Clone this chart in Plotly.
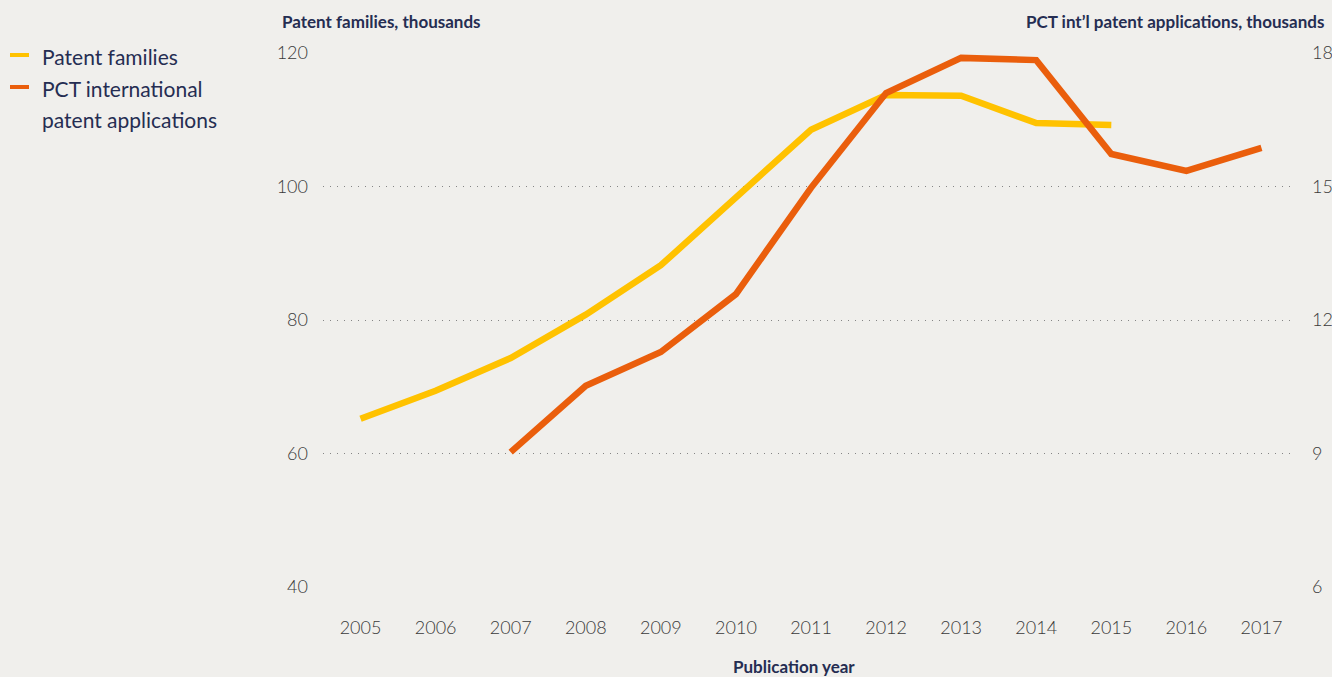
import plotly.graph_objects as go

years_pf = [2005, 2006, 2007, 2008, 2009, 2010, 2011, 2012, 2013, 2014, 2015]
patent_families = [65.2, 69.4, 74.3, 80.8, 88.2, 98.4, 108.5, 113.7, 113.6, 109.5, 109.2]

years_pct = [2007, 2008, 2009, 2010, 2011, 2012, 2013, 2014, 2015, 2016, 2017]
pct_apps = [9.03, 10.52, 11.28, 12.58, 14.97, 17.1, 17.89, 17.84, 15.73, 15.35, 15.87]

left_ticks = [40, 60, 80, 100, 120]
right_ticks = [6, 9, 12, 15, 18]
year_ticks = list(range(2005, 2018))

YELLOW = "#FFC200"
ORANGE = "#EA5E0C"
NAVY = "#252D52"
BG = "#F0EFEC"
TICK = "#3a3a3a"
FONT = "Lato"

W, H = 1332, 677
pl, pr, pt, pb = 323, 39, 53, 90
pw, ph = W - pl - pr, H - pt - pb

def px(xp):
    return (xp - pl) / pw

def py(yp):
    return (H - pb - yp) / ph

fig = go.Figure()
fig.add_trace(go.Scatter(x=years_pf, y=patent_families, mode="lines",
                         line=dict(color=YELLOW, width=6.5), name="Patent families",
                         yaxis="y", showlegend=False))
fig.add_trace(go.Scatter(x=years_pct, y=pct_apps, mode="lines",
                         line=dict(color=ORANGE, width=6.5), name="PCT international patent applications",
                         yaxis="y2", showlegend=False))

tickfont = dict(size=18, color=TICK, family=FONT, weight=300)

fig.update_layout(
    width=W, height=H,
    paper_bgcolor=BG, plot_bgcolor=BG,
    margin=dict(l=pl, r=pr, t=pt, b=pb, autoexpand=False),
    font=dict(family=FONT, color=TICK, size=16),
    xaxis=dict(range=[2004.5, 2017.42], tickvals=year_ticks, showgrid=False, automargin=False,
               zeroline=False, showline=False, ticks="", ticklabelstandoff=28,
               tickfont=tickfont),
    yaxis=dict(range=[40, 120], tickvals=left_ticks, showgrid=True, griddash="1px,6px",
               gridcolor="#858585", gridwidth=1, zeroline=False, showline=False, automargin=False,
               ticks="", ticklabelstandoff=14, tickfont=tickfont),
    yaxis2=dict(range=[6, 18], tickvals=right_ticks, overlaying="y", side="right",
                showgrid=False, zeroline=False, showline=False, ticks="", automargin=False,
                ticklabelstandoff=18, tickfont=tickfont),
)

annotations = [
    dict(text="<b>Patent families, thousands</b>", x=px(280), y=py(21), xanchor="left", yanchor="middle",
         font=dict(size=17, color=NAVY, family=FONT)),
    dict(text="<b>PCT int’l patent applications, thousands</b>", x=px(1326), y=py(21), xanchor="right",
         yanchor="middle", font=dict(size=17, color=NAVY, family=FONT)),
    dict(text="<b>Publication year</b>", x=px(794), y=py(666), xanchor="center", yanchor="middle",
         font=dict(size=17, color=NAVY, family=FONT)),
    dict(text="Patent families", x=px(40), y=py(56), xanchor="left", yanchor="middle",
         font=dict(size=21, color=NAVY, family=FONT)),
    dict(text="PCT international", x=px(40), y=py(88), xanchor="left", yanchor="middle",
         font=dict(size=21, color=NAVY, family=FONT)),
    dict(text="patent applications", x=px(40), y=py(120), xanchor="left", yanchor="middle",
         font=dict(size=21, color=NAVY, family=FONT)),
]
for a in annotations:
    a.update(xref="paper", yref="paper", showarrow=False)
fig.update_layout(annotations=annotations)

fig.add_shape(type="line", xref="paper", yref="paper", x0=px(10), x1=px(29), y0=py(55), y1=py(55),
              line=dict(color=YELLOW, width=4))
fig.add_shape(type="line", xref="paper", yref="paper", x0=px(10), x1=px(29), y0=py(87), y1=py(87),
              line=dict(color=ORANGE, width=4))

fig.write_html("out.html", config={"displayModeBar": False},
               post_script="document.body.style.margin='0';")
